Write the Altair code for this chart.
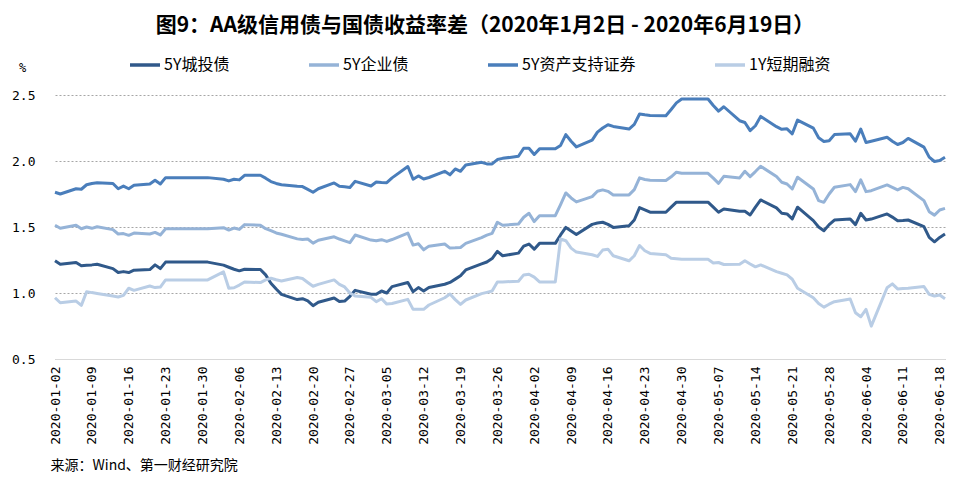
import altair as alt
import pandas as pd

# ---- data ----
dates = [
    "2020-01-02", "2020-01-03", "2020-01-06", "2020-01-07", "2020-01-08", "2020-01-09", "2020-01-10",
    "2020-01-13", "2020-01-14", "2020-01-15", "2020-01-16", "2020-01-17", "2020-01-20", "2020-01-21",
    "2020-01-22", "2020-01-23", "2020-01-31", "2020-02-03", "2020-02-04", "2020-02-05", "2020-02-06",
    "2020-02-07", "2020-02-10", "2020-02-11", "2020-02-12", "2020-02-13", "2020-02-14", "2020-02-17",
    "2020-02-18", "2020-02-19", "2020-02-20", "2020-02-21", "2020-02-24", "2020-02-25", "2020-02-26",
    "2020-02-27", "2020-02-28", "2020-03-02", "2020-03-03", "2020-03-04", "2020-03-05", "2020-03-06",
    "2020-03-09", "2020-03-10", "2020-03-11", "2020-03-12", "2020-03-13", "2020-03-16", "2020-03-17",
    "2020-03-18", "2020-03-19", "2020-03-20", "2020-03-23", "2020-03-24", "2020-03-25", "2020-03-26",
    "2020-03-27", "2020-03-30", "2020-03-31", "2020-04-01", "2020-04-02", "2020-04-03", "2020-04-06",
    "2020-04-07", "2020-04-08", "2020-04-09", "2020-04-10", "2020-04-13", "2020-04-14", "2020-04-15",
    "2020-04-16", "2020-04-17", "2020-04-20", "2020-04-21", "2020-04-22", "2020-04-23", "2020-04-24",
    "2020-04-27", "2020-04-28", "2020-04-29", "2020-04-30", "2020-05-05", "2020-05-06", "2020-05-07",
    "2020-05-08", "2020-05-11", "2020-05-12", "2020-05-13", "2020-05-14", "2020-05-15", "2020-05-18",
    "2020-05-19", "2020-05-20", "2020-05-21", "2020-05-22", "2020-05-25", "2020-05-26", "2020-05-27",
    "2020-05-28", "2020-05-29", "2020-06-01", "2020-06-02", "2020-06-03", "2020-06-04", "2020-06-05",
    "2020-06-08", "2020-06-09", "2020-06-10", "2020-06-11", "2020-06-12", "2020-06-15", "2020-06-16",
    "2020-06-17", "2020-06-18", "2020-06-19",
]

chengtou = [  # 5Y城投债
    1.244, 1.218, 1.231, 1.206, 1.210, 1.213, 1.218,
    1.185, 1.155, 1.162, 1.155, 1.173, 1.178, 1.213,
    1.185, 1.234, 1.234, 1.211, 1.195, 1.180, 1.168,
    1.180, 1.178, 1.137, 1.074, 1.030, 0.990, 0.950,
    0.957, 0.940, 0.904, 0.930, 0.962, 0.935, 0.939,
    0.975, 1.020, 0.990, 0.990, 1.015, 1.000, 1.048,
    1.079, 1.010, 1.041, 1.015, 1.041, 1.066, 1.080,
    1.105, 1.130, 1.175, 1.220, 1.235, 1.261, 1.315,
    1.282, 1.302, 1.355, 1.371, 1.332, 1.376, 1.376,
    1.440, 1.497, 1.470, 1.444, 1.520, 1.530, 1.536,
    1.520, 1.497, 1.510, 1.553, 1.647, 1.630, 1.612,
    1.612, 1.650, 1.688, 1.688, 1.688, 1.650, 1.612,
    1.637, 1.619, 1.619, 1.591, 1.650, 1.705, 1.645,
    1.604, 1.599, 1.561, 1.650, 1.548, 1.500, 1.472,
    1.518, 1.553, 1.561, 1.518, 1.604, 1.553, 1.560,
    1.599, 1.575, 1.548, 1.550, 1.553, 1.503, 1.421,
    1.388, 1.421, 1.447,
]

qiye = [  # 5Y企业债
    1.513, 1.490, 1.513, 1.487, 1.500, 1.490, 1.502,
    1.480, 1.447, 1.450, 1.437, 1.454, 1.447, 1.459,
    1.440, 1.487, 1.487, 1.495, 1.477, 1.492, 1.482,
    1.518, 1.513, 1.487, 1.472, 1.455, 1.445, 1.410,
    1.406, 1.409, 1.378, 1.400, 1.426, 1.409, 1.395,
    1.381, 1.439, 1.401, 1.396, 1.404, 1.391, 1.405,
    1.454, 1.363, 1.373, 1.327, 1.355, 1.371, 1.340,
    1.342, 1.345, 1.376, 1.420, 1.439, 1.452, 1.536,
    1.513, 1.523, 1.574, 1.604, 1.541, 1.586, 1.586,
    1.670, 1.758, 1.720, 1.690, 1.730, 1.771, 1.781,
    1.770, 1.743, 1.743, 1.783, 1.872, 1.860, 1.855,
    1.852, 1.880, 1.915, 1.907, 1.907, 1.870, 1.831,
    1.884, 1.872, 1.922, 1.882, 1.920, 1.960, 1.882,
    1.839, 1.826, 1.788, 1.877, 1.788, 1.700, 1.687,
    1.750, 1.801, 1.821, 1.768, 1.857, 1.768, 1.775,
    1.819, 1.800, 1.781, 1.800, 1.790, 1.700, 1.616,
    1.590, 1.629, 1.641,
]

zichan = [  # 5Y资产支持证券
    1.763, 1.750, 1.790, 1.786, 1.820, 1.830, 1.836,
    1.830, 1.790, 1.810, 1.790, 1.816, 1.826, 1.854,
    1.826, 1.874, 1.874, 1.862, 1.849, 1.862, 1.857,
    1.892, 1.892, 1.870, 1.844, 1.830, 1.820, 1.808,
    1.806, 1.785, 1.763, 1.790, 1.834, 1.808, 1.805,
    1.800, 1.846, 1.811, 1.841, 1.838, 1.836, 1.872,
    1.958, 1.862, 1.887, 1.864, 1.875, 1.922, 1.895,
    1.940, 1.922, 1.970, 1.990, 1.978, 1.978, 2.011,
    2.020, 2.036, 2.097, 2.097, 2.049, 2.092, 2.092,
    2.118, 2.200, 2.150, 2.107, 2.158, 2.219, 2.250,
    2.275, 2.262, 2.242, 2.277, 2.356, 2.350, 2.345,
    2.343, 2.390, 2.440, 2.470, 2.470, 2.420, 2.378,
    2.411, 2.305, 2.292, 2.230, 2.267, 2.338, 2.260,
    2.240, 2.244, 2.206, 2.310, 2.249, 2.176, 2.148,
    2.153, 2.200, 2.206, 2.150, 2.242, 2.140, 2.150,
    2.180, 2.150, 2.125, 2.140, 2.171, 2.105, 2.029,
    1.996, 2.004, 2.029,
]

duanrong = [  # 1Y短期融资
    0.964, 0.926, 0.939, 0.906, 1.010, 1.003, 0.997,
    0.977, 0.970, 0.982, 1.036, 1.020, 1.053, 1.041,
    1.045, 1.099, 1.099, 1.160, 1.036, 1.040, 1.060,
    1.084, 1.079, 1.099, 1.112, 1.100, 1.091, 1.117,
    1.110, 1.080, 1.051, 1.065, 1.099, 1.066, 1.046,
    1.000, 0.977, 0.967, 0.934, 0.957, 0.916, 0.920,
    0.952, 0.876, 0.876, 0.876, 0.909, 0.964, 0.992,
    0.950, 0.914, 0.947, 0.995, 1.005, 1.015, 1.084,
    1.084, 1.089, 1.137, 1.142, 1.120, 1.084, 1.084,
    1.409, 1.396, 1.340, 1.310, 1.290, 1.277, 1.325,
    1.332, 1.282, 1.244, 1.282, 1.360, 1.320, 1.300,
    1.289, 1.264, 1.260, 1.256, 1.256, 1.228, 1.231,
    1.216, 1.218, 1.244, 1.220, 1.198, 1.213, 1.162,
    1.150, 1.137, 1.104, 1.036, 0.964, 0.920, 0.893,
    0.915, 0.934, 0.954, 0.850, 0.820, 0.876, 0.749,
    1.040, 1.069, 1.031, 1.034, 1.036, 1.049, 0.990,
    0.977, 0.985, 0.957,
]

series_names = ["5Y城投债", "5Y企业债", "5Y资产支持证券", "1Y短期融资"]
series_colors = ["#30598A", "#95B3D7", "#4A7EBB", "#B9CDE5"]

x_tick_dates = [
    "2020-01-02", "2020-01-09", "2020-01-16", "2020-01-23", "2020-01-30", "2020-02-06",
    "2020-02-13", "2020-02-20", "2020-02-27", "2020-03-05", "2020-03-12", "2020-03-19",
    "2020-03-26", "2020-04-02", "2020-04-09", "2020-04-16", "2020-04-23", "2020-04-30",
    "2020-05-07", "2020-05-14", "2020-05-21", "2020-05-28", "2020-06-04", "2020-06-11",
    "2020-06-18",
]
y_ticks = [0.5, 1.0, 1.5, 2.0, 2.5]

title_text = "图9：AA级信用债与国债收益率差（2020年1月2日 - 2020年6月19日）"
source_text = "来源：Wind、第一财经研究院"

# ---- build table ----
rows = []
for name, vals in zip(series_names, [chengtou, qiye, zichan, duanrong]):
    for d, v in zip(dates, vals):
        rows.append({"date": d, "series": name, "value": v})
df = pd.DataFrame(rows)


def dt(s):
    y, m, d = (int(p) for p in s.split("-"))
    return alt.DateTime(year=y, month=m, date=d, utc=True)


CJK = "Noto Sans CJK SC"
MONO = "DejaVu Sans Mono"

chart = (
    alt.Chart(df)
    .mark_line(strokeWidth=3, strokeJoin="round")
    .encode(
        x=alt.X(
            "date:T",
            scale=alt.Scale(type="utc", domain=[dt("2020-01-02"), dt("2020-06-19")]),
            axis=alt.Axis(
                values=[dt(s) for s in x_tick_dates],
                format="%Y-%m-%d",
                labelAngle=270,
                labelAlign="right",
                labelBaseline="middle",
                labelPadding=7,
                labelFont=MONO,
                labelFontSize=13,
                labelColor="#000000",
                labelOverlap=False,
                ticks=False,
                grid=False,
                domainColor="#D9D9D9",
                domainWidth=1,
                title=source_text,
                titleFont=CJK,
                titleFontSize=14,
                titleFontWeight="normal",
                titleColor="#000000",
                titleX=-5,
                titleY=106,
                titleAlign="left",
                titleBaseline="middle",
            ),
        ),
        y=alt.Y(
            "value:Q",
            scale=alt.Scale(domain=[0.5, 2.5], nice=False, zero=False),
            axis=alt.Axis(
                values=y_ticks,
                format=".1f",
                ticks=False,
                domain=False,
                grid=True,
                gridDash=[2, 2],
                gridColor="#A6A6A6",
                labelFont=MONO,
                labelFontSize=13,
                labelColor="#000000",
                labelPadding=20,
                title="%",
                titleFont=MONO,
                titleFontSize=12,
                titleFontWeight="normal",
                titleColor="#000000",
                titleAngle=0,
                titleX=-33,
                titleY=-28,
                titleAlign="center",
                titleBaseline="middle",
            ),
        ),
        color=alt.Color(
            "series:N",
            sort=series_names,
            scale=alt.Scale(domain=series_names, range=series_colors),
            legend=alt.Legend(
                orient="none",
                legendX=73,
                legendY=-47,
                direction="horizontal",
                title=None,
                symbolType="stroke",
                symbolStrokeWidth=3.5,
                symbolSize=900,
                labelFont=CJK,
                labelFontSize=16,
                labelColor="#000000",
                labelOffset=2,
                columnPadding=72,
            ),
        ),
    )
    .properties(
        width=890,
        height=264,
        title=alt.Title(
            title_text,
            font=CJK,
            fontSize=21,
            fontWeight="bold",
            color="#000000",
            anchor="middle",
            dx=-15,
            offset=12,
        ),
        autosize=alt.AutoSizeParams(type="none"),
        padding={"left": 55, "top": 95, "right": 20, "bottom": 124},
    )
    .configure_view(stroke=None)
)

chart.save("out.html", embed_options={"renderer": "svg", "actions": False})
